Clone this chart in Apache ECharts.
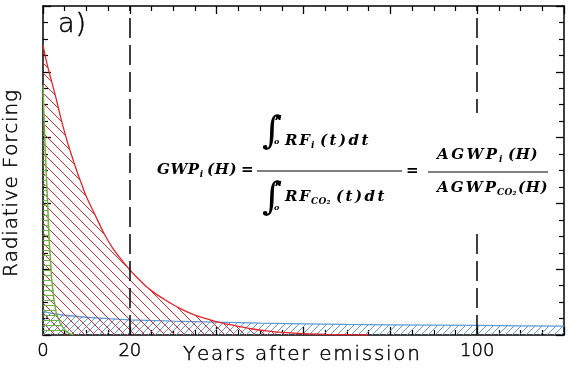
<!DOCTYPE html>
<html><head><meta charset="utf-8">
<script src="https://cdn.jsdelivr.net/npm/echarts@6/dist/echarts.min.js"></script>
<style>html,body{margin:0;padding:0;background:#fff}#c{width:578px;height:371px}</style>
</head><body><div id="c"></div>
<script>
// ---- data ----
const xTickLabels = [0, 20, 100];
const markYears = [20, 100];
const redX = [0,1,2,3,4,5,6,7,8,9,10,12,14,16,18,20,22,24,26,28,30,32,34,36,38,40,44,48,52,56,60,65,70,75];
const redY = [0.881,0.82,0.77,0.72,0.665,0.615,0.57,0.53,0.49,0.455,0.42,0.365,0.31,0.265,0.23,0.198,0.17,0.145,0.125,0.108,0.092,0.078,0.066,0.056,0.048,0.04,0.029,0.019,0.012,0.007,0.004,0.002,0.001,0];
const greenX = [0,0.25,0.5,0.75,1,1.25,1.5,2,2.5,3,3.5,4,5,6,7];
const greenY = [0.76,0.66,0.57,0.49,0.42,0.34,0.27,0.17,0.11,0.07,0.05,0.035,0.015,0.005,0];
const blueX = [0,2,5,10,15,20,30,40,50,60,70,80,90,100,110,120];
const blueY = [0.072,0.066,0.06,0.054,0.05,0.046,0.042,0.039,0.036,0.034,0.032,0.031,0.03,0.029,0.028,0.027];

const zip = (a, b) => a.map((v, i) => [v, b[i]]);

function hatch(color, n, dir, w) {
  const c = document.createElement('canvas');
  c.width = n; c.height = n;
  const g = c.getContext('2d');
  g.strokeStyle = color; g.lineWidth = w;
  g.beginPath();
  if (dir === 'h') { g.moveTo(0, 0.5); g.lineTo(n, 0.5); }
  else {
    for (let k = -1; k <= 1; k++) {
      if (dir === '\\') { g.moveTo(0, k * n); g.lineTo(n, (k + 1) * n); }
      else { g.moveTo(0, (k + 1) * n); g.lineTo(n, k * n); }
    }
  }
  g.stroke();
  return { image: c, repeat: 'repeat' };
}

const RED = '#e3242b', GREEN = '#6db33f', BLUE = '#5b9bd5';

// ---- text helpers ----
const mctx = document.createElement('canvas').getContext('2d');
function measure(t, f) { mctx.font = f; return mctx.measureText(t).width; }
// place characters one by one so the run spans about x0..x1; returns [elements, endX]
function spaced(text, font, x0, x1, cy, minGap, maxGap, strokeW) {
  const chars = Array.from(text);
  const ws = chars.map(ch => measure(ch, font));
  const total = ws.reduce((a, b) => a + b, 0);
  let gap = chars.length > 1 ? (x1 - x0 - total) / (chars.length - 1) : 0;
  gap = Math.max(minGap, Math.min(maxGap, gap));
  const out = [];
  let x = x0;
  chars.forEach((ch, i) => {
    if (ch !== ' ') {
      const st = { text: ch, font: font, fill: '#000', align: 'left', verticalAlign: 'middle' };
      if (strokeW) { st.stroke = '#000'; st.lineWidth = strokeW; }
      out.push({ type: 'text', z: 101, x: x, y: cy, style: st });
    }
    x += ws[i] + gap;
  });
  return [out, x - gap];
}

const FF = '"DejaVu Serif", serif';
const MAIN = 'italic bold 15px ' + FF;
const SUB = 'italic bold 9px ' + FF;
function row(parts, cy) {
  let out = [], end = -1e9;
  for (const p of parts) {
    const sub = p[1] === 's';
    const x0 = Math.max(p[2], end + (sub ? 0.5 : 1.5));
    const r = spaced(p[0], sub ? SUB : MAIN, x0, p[3], cy + (sub ? 5 : 0), sub ? 0.3 : 0.6, sub ? 1.5 : 2.5);
    out = out.concat(r[0]); end = r[1];
  }
  return out;
}
function integral(x, cy) {
  return [
    { type: 'text', z: 101, x: x, y: cy, style: { text: '\u222B', font: 'italic 38px ' + FF, fill: '#000', align: 'left', verticalAlign: 'middle' } },
    { type: 'text', z: 101, x: x + 13, y: cy - 15, style: { text: 'H', font: 'italic bold 7px ' + FF, fill: '#000', align: 'left', verticalAlign: 'middle' } },
    { type: 'text', z: 101, x: x + 12, y: cy + 9, style: { text: 'o', font: 'italic bold 8px ' + FF, fill: '#000', align: 'left', verticalAlign: 'middle' } }
  ];
}

const formula = [].concat(
  [{ type: 'rect', z: 100, shape: { x: 150, y: 113, width: 406, height: 114 }, style: { fill: '#fff' } }],
  row([['GWP','m',157,198],['i','s',199,205],['(H)','m',207,233]], 170),
  row([['=','m',241,251]], 170),
  integral(262, 133),
  row([['RF','m',285,310],['i','s',311,317],['(t)dt','m',320,388]], 141),
  [{ type: 'line', z: 101, shape: { x1: 257, y1: 171, x2: 402, y2: 171 }, style: { stroke: '#000', lineWidth: 1 } }],
  integral(262, 199),
  row([['RF','m',285,310],['CO\u2082','s',311,330],['(t)dt','m',336,397]], 197),
  row([['=','m',406,417]], 171),
  row([['AGWP','m',437,498],['i','s',499,505],['(H)','m',508,531]], 155),
  [{ type: 'line', z: 101, shape: { x1: 428, y1: 172, x2: 548, y2: 172 }, style: { stroke: '#000', lineWidth: 1 } }],
  row([['AGWP','m',437,496],['CO\u2082','s',497,513],['(H)','m',515,538]], 188)
);

const LABF = '"DejaVu Sans", sans-serif';
const LAB = '200 20px ' + LABF;
const texts = [].concat(
  spaced('a)', '200 27px ' + LABF, 58, 86, 25, 0, 2, 0.5)[0],
  spaced('Years after emission', LAB, 183, 420, 355, 0, 3, 0.45)[0],
  [{ type: 'group', x: 12, y: 183.5, rotation: Math.PI / 2, z: 101,
     children: spaced('Radiative Forcing', LAB, -93.5, 93.5, 0, 0, 3, 0.45)[0] }]
);

const axisCommon = {
  type: 'value', splitLine: { show: false },
  axisLine: { onZero: false, lineStyle: { color: '#000', width: 1.5 } },
  axisTick: { inside: true, length: 8, lineStyle: { color: '#000', width: 1.3 } },
  minorTick: { show: true, splitNumber: 4, length: 5, lineStyle: { color: '#000', width: 1.2 } }
};

const chart = echarts.init(document.getElementById('c'), null, { renderer: 'canvas' });
chart.setOption({
  animation: false,
  backgroundColor: '#fff',
  grid: { left: 43, right: 14, top: 6, bottom: 36, containLabel: false },
  xAxis: [
    Object.assign({}, axisCommon, { position: 'bottom', min: 0, max: 120, interval: 20,
      axisLabel: { color: '#000', fontSize: 18, fontWeight: 200, fontFamily: LABF, margin: 7,
        textBorderColor: '#000', textBorderWidth: 0.45,
        formatter: v => xTickLabels.includes(v) ? String(v) : '' } }),
    Object.assign({}, axisCommon, { position: 'top', min: 0, max: 120, interval: 20, axisLabel: { show: false } })
  ],
  yAxis: [
    Object.assign({}, axisCommon, { position: 'left', min: 0, max: 1, interval: 0.2, axisLabel: { show: false } }),
    Object.assign({}, axisCommon, { position: 'right', min: 0, max: 1, interval: 0.2, axisLabel: { show: false } })
  ],
  series: [
    { type: 'line', data: zip(blueX, blueY), showSymbol: false, z: 3,
      lineStyle: { color: BLUE, width: 1.3 }, areaStyle: { color: hatch(BLUE, 7, '/', 1), opacity: 1 } },
    { type: 'line', data: zip(redX, redY), showSymbol: false, smooth: 0.3, z: 4,
      lineStyle: { color: RED, width: 1.3 }, areaStyle: { color: hatch(RED, 10, '\\', 1), opacity: 1 } },
    { type: 'line', data: zip(greenX, greenY), showSymbol: false, z: 5,
      lineStyle: { color: GREEN, width: 1.5 }, areaStyle: { color: hatch(GREEN, 5, 'h', 1), opacity: 1 } },
    { type: 'line', data: [], z: 6,
      markLine: { silent: true, symbol: 'none', label: { show: false },
        lineStyle: { color: '#000', type: [20, 7], width: 1.5 },
        data: markYears.map(v => ({ xAxis: v })) } }
  ],
  graphic: formula.concat(texts)
});
</script>
</body></html>
